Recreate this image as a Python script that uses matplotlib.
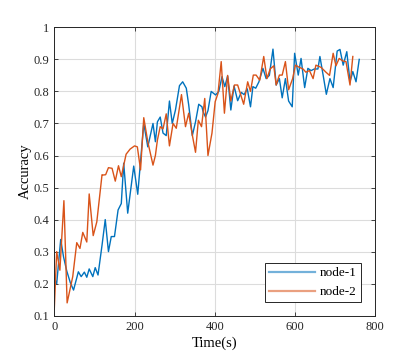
import numpy as np
import matplotlib.pyplot as plt

plt.rcParams['font.family'] = ['Liberation Serif', 'DejaVu Serif']

# node-1 (time, accuracy)
t1 = [0, 6, 16, 23, 31, 40, 48, 60, 67, 75, 81, 87, 96, 102, 109, 119, 127,
      135, 142, 150, 159, 167, 173, 183, 198, 208, 223, 233, 246, 252, 257,
      264, 271, 279, 287, 294, 302, 312, 320, 329, 335, 344, 352, 360, 368,
      371, 377, 383, 391, 402, 410, 418, 425, 432, 440, 448, 457, 466, 473,
      481, 489, 495, 502, 510, 520, 528, 536, 545, 553, 561, 568, 576, 584,
      593, 599, 608, 615, 624, 632, 640, 648, 657, 662, 670, 678, 687, 695,
      705, 712, 720, 729, 737, 744, 752, 760]
acc1 = [0.217, 0.20, 0.338, 0.284, 0.24, 0.203, 0.18, 0.237, 0.222, 0.236, 0.22,
        0.246, 0.222, 0.25, 0.227, 0.32, 0.40, 0.30, 0.347, 0.347, 0.43, 0.45,
        0.576, 0.42, 0.567, 0.479, 0.70, 0.627, 0.70, 0.643, 0.705, 0.72, 0.67,
        0.662, 0.77, 0.70, 0.742, 0.818, 0.83, 0.81, 0.758, 0.662, 0.705, 0.76,
        0.752, 0.736, 0.72, 0.74, 0.80, 0.789, 0.80, 0.846, 0.815, 0.848, 0.742,
        0.817, 0.771, 0.797, 0.79, 0.808, 0.752, 0.815, 0.81, 0.83, 0.872, 0.84,
        0.85, 0.932, 0.82, 0.84, 0.78, 0.84, 0.77, 0.752, 0.919, 0.851, 0.903,
        0.812, 0.872, 0.865, 0.87, 0.87, 0.909, 0.851, 0.791, 0.84, 0.812,
        0.926, 0.931, 0.882, 0.924, 0.83, 0.862, 0.83, 0.90]

# node-2
t2 = [0, 6, 14, 24, 32, 46, 56, 64, 71, 81, 87, 97, 106, 119, 121, 128, 135,
      144, 152, 160, 167, 179, 189, 200, 207, 215, 223, 233, 246, 252, 257,
      264, 271, 279, 287, 296, 304, 317, 327, 335, 344, 352, 359, 367, 375,
      383, 393, 401, 408, 416, 424, 432, 440, 449, 457, 472, 482, 489, 496,
      503, 512, 522, 530, 538, 547, 553, 561, 568, 576, 584, 594, 601, 611,
      620, 627, 636, 645, 652, 665, 677, 686, 695, 702, 710, 719, 727, 737, 744]
acc2 = [0.12, 0.30, 0.242, 0.459, 0.14, 0.222, 0.328, 0.31, 0.36, 0.33, 0.48,
        0.35, 0.393, 0.54, 0.539, 0.54, 0.562, 0.56, 0.52, 0.568, 0.534, 0.604,
        0.62, 0.63, 0.627, 0.555, 0.718, 0.643, 0.57, 0.60, 0.648, 0.69, 0.683,
        0.73, 0.63, 0.70, 0.685, 0.79, 0.69, 0.732, 0.664, 0.61, 0.71, 0.69,
        0.778, 0.60, 0.67, 0.768, 0.794, 0.893, 0.732, 0.85, 0.77, 0.82, 0.82,
        0.76, 0.83, 0.80, 0.851, 0.851, 0.835, 0.909, 0.84, 0.87, 0.88, 0.82,
        0.851, 0.851, 0.893, 0.805, 0.84, 0.882, 0.875, 0.87, 0.86, 0.865, 0.84,
        0.882, 0.875, 0.86, 0.85, 0.919, 0.88, 0.903, 0.895, 0.893, 0.82, 0.909]

fig = plt.figure(figsize=(4.15, 3.56), dpi=100)
ax = fig.add_axes([0.1308, 0.1132, 0.7735, 0.81])

ax.plot(t1, acc1, color="#0072BD", lw=1.0, label="node-1")
ax.plot(t2, acc2, color="#D95319", lw=1.0, label="node-2")

ax.set_xlim(0, 800)
ax.set_ylim(0.1, 1)
ax.set_xticks(np.arange(0, 801, 200))
ax.set_yticks(np.round(np.arange(0.1, 1.01, 0.1), 1))
ax.set_yticklabels(["0.1", "0.2", "0.3", "0.4", "0.5", "0.6", "0.7", "0.8", "0.9", "1"])
ax.grid(True, color="#dcdcdc", lw=0.8)
ax.set_axisbelow(True)
ax.tick_params(direction="in", top=True, right=True, length=3, width=0.6,
               colors="#262626", labelsize=9)
for s in ax.spines.values():
    s.set_linewidth(0.7)
    s.set_color("#262626")

ax.set_xlabel("Time(s)", fontsize=10.5, labelpad=3)
ax.set_ylabel("Accuracy", fontsize=10.5, labelpad=1)

leg = ax.legend(loc="lower right", fontsize=9.5, fancybox=False, framealpha=1,
                edgecolor="#262626", borderpad=0.3, handlelength=3.5,
                handletextpad=0.4, borderaxespad=0,
                bbox_to_anchor=(0.955, 0.047))
leg.get_frame().set_linewidth(0.7)
for h in leg.get_lines():
    h.set_alpha(0.55)
    h.set_linewidth(1.6)

fig.savefig("out.png", dpi=100)
